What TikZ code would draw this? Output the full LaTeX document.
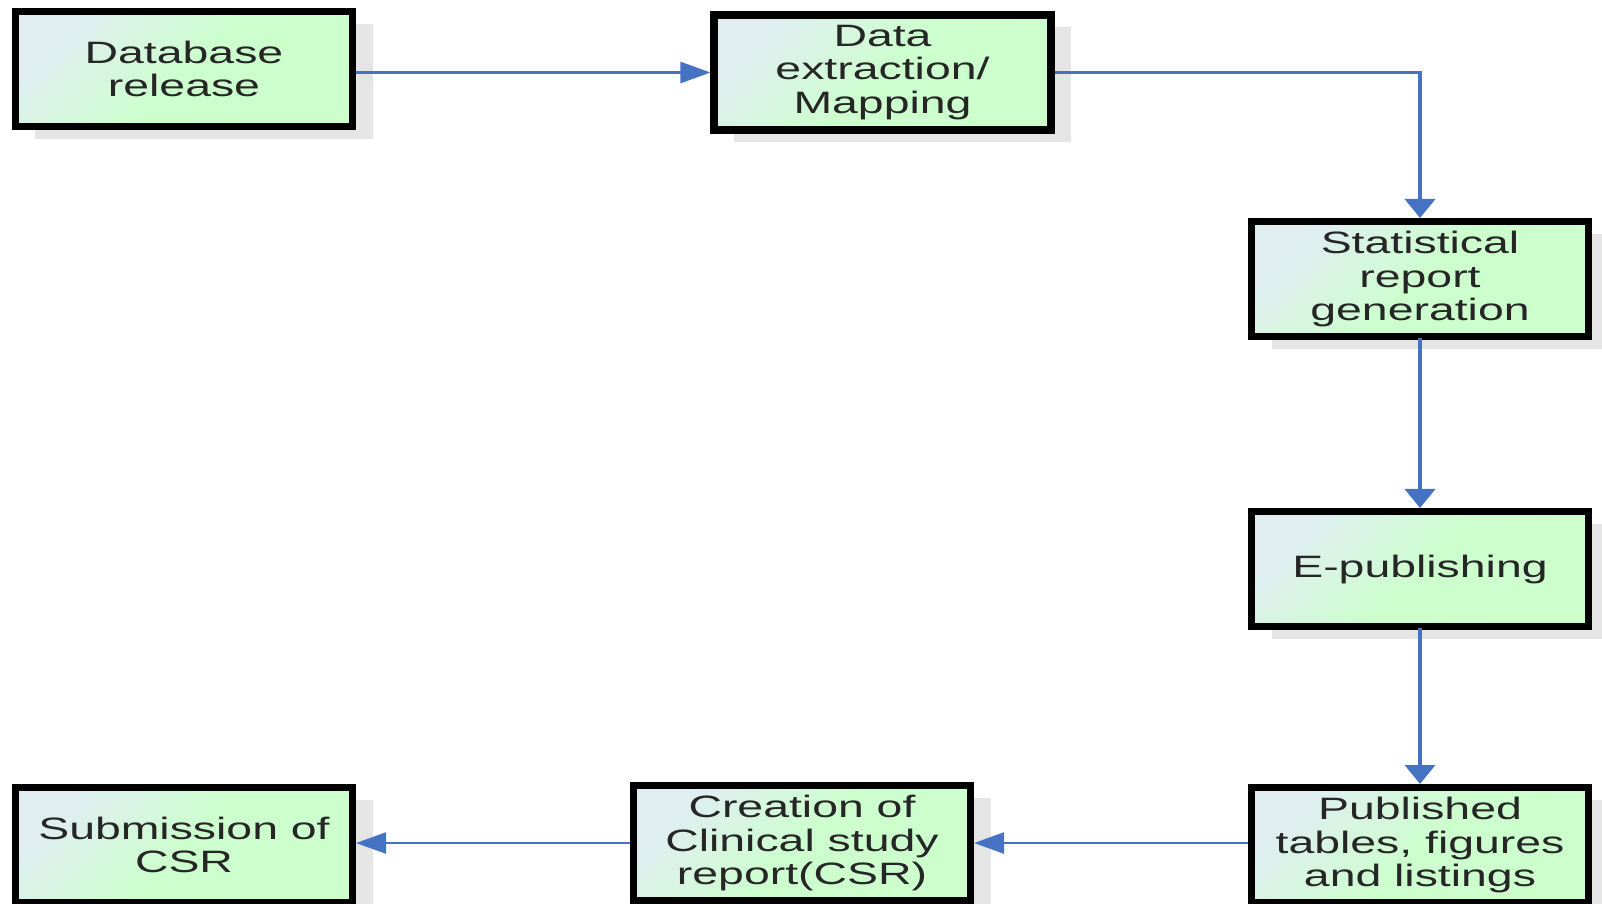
\documentclass[tikz,border=0pt]{standalone}
\usepackage{fontspec}
\newfontfamily\boxfont[FakeStretch=1.5]{Liberation Sans}
\usetikzlibrary{positioning, shadows, arrows.meta}
\definecolor{boxblue}{RGB}{224,238,242}
\definecolor{boxgreen}{RGB}{204,255,204}
\definecolor{flowblue}{RGB}{70,114,196}

\begin{document}
\begin{tikzpicture}[
            stage/.style={draw, line width=2pt, align=center, inner sep=0pt, minimum width=3.37cm, minimum height=1.15cm,
                top color=boxblue, bottom color=boxgreen, middle color=boxgreen!95!boxblue, shading angle=45,
                drop shadow={shadow xshift=0.2cm, shadow yshift=-0.12cm, fill=black!10, opacity=1},
                font=\boxfont\fontsize{8.8}{9.6}\selectfont, text=black!85},
            flow/.style={-{Triangle[length=0.3cm, width=0.21cm]}, draw=flowblue, line width=0.7pt},
            flowdown/.style={-{Triangle[length=0.19cm, width=0.3cm]}, draw=flowblue, line width=1.1pt, line cap=rect}
        ]
            \useasboundingbox (0,0) rectangle (16.02,-9.03);

            % stages
            \node[stage] (rel) at (1.84,-0.69) {Database\\release};
            \node[stage] (ext) at (8.825,-0.725) {Data\\extraction/\\Mapping};
            \node[stage] (stat) at (14.20,-2.79) {Statistical\\report\\generation};
            \node[stage, below of=stat, node distance=2.9cm] (epub) {E-publishing};
            \node[stage, below of=epub, node distance=2.76cm] (pub) {Published\\tables, figures\\and listings};
            \node[stage] (csr) at (8.02,-8.43) {Creation of\\Clinical study\\report(CSR)};
            \node[stage] (sub) at (1.84,-8.45) {Submission of\\CSR};
            \coordinate (bend) at (stat.north |- ext.east);

            % top row and down the right side
            \draw[flow] (rel.east |- ext.west) -- (ext.west);
            \draw[flow, -] (ext.east) -- (bend);
            \draw[flowdown] (bend) -- (stat.north);
            \draw[flowdown] (stat.south) -- (epub.north);
            \draw[flowdown] (epub.south) -- (pub.north);

            % bottom row, right to left
            \draw[flow] (pub.west |- csr.east) -- (csr.east);
            \draw[flow] (csr.west) -- (sub.east |- csr.west);
          \end{tikzpicture}
\end{document}
